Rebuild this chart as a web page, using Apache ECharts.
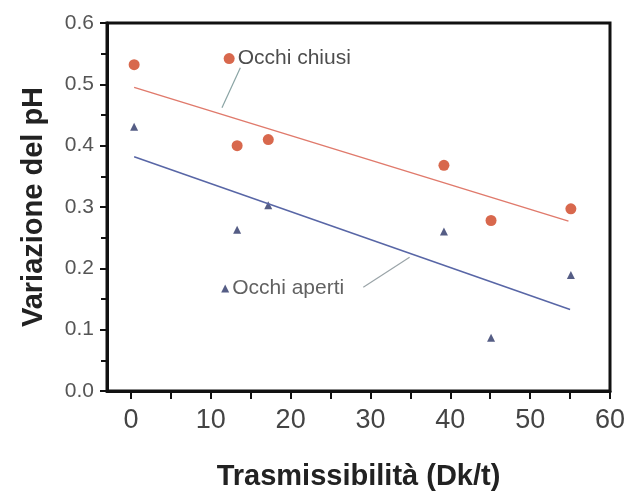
<!DOCTYPE html>
<html>
<head>
<meta charset="utf-8">
<script src="https://cdn.jsdelivr.net/npm/echarts@6/dist/echarts.min.js"></script>
<style>
  html, body { margin: 0; padding: 0; background: #fff; }
  #chart { width: 630px; height: 496px; }
</style>
</head>
<body>
<div id="chart"></div>
<script>
// dati
const chiusiX = [0.4, 12.3, 13.3, 17.2, 39.2, 45.1, 55.1]
const chiusiY = [0.532, 0.542, 0.400, 0.410, 0.368, 0.278, 0.297]
const apertiX = [0.4, 11.8, 13.3, 17.2, 39.2, 45.1, 55.1]
const apertiY = [0.431, 0.167, 0.263, 0.303, 0.260, 0.087, 0.189]
// rette di regressione (estremi)
const fitChiusi = [[0.4, 0.495], [54.8, 0.277]]
const fitAperti = [[0.4, 0.382], [55.0, 0.133]]
// linee di richiamo delle etichette
const leaderChiusi = [[13.7, 0.527], [11.4, 0.462]]
const leaderAperti = [[29.1, 0.169], [34.9, 0.218]]
const xTicks = [0, 5, 10, 15, 20, 25, 30, 35, 40, 45, 50, 55, 60]
const xLabels = [0, 10, 20, 30, 40, 50, 60]

const labelIndexChiusi = 1
const labelIndexAperti = 1

const FONT = 'Liberation Sans, Arial, sans-serif'
const chart = echarts.init(document.getElementById('chart'))

function points(xs, ys, labelIdx, text) {
  return xs.map((x, i) => {
    const item = { value: [x, ys[i]] }
    if (i === labelIdx) {
      item.label = {
        show: true,
        position: 'right',
        distance: 3,
        formatter: text,
        color: '#3a3a3a',
        fontSize: 21,
        fontFamily: FONT
      }
    }
    return item
  })
}

const option = {
  animation: false,
  grid: {
    left: 107, right: 20, top: 23, bottom: 104,
    show: true, borderColor: '#111', borderWidth: 3
  },
  xAxis: {
    type: 'value',
    min: -3,
    max: 60,
    name: 'Trasmissibilità (Dk/t)',
    nameLocation: 'middle',
    nameGap: 71,
    nameTextStyle: { fontSize: 29, fontWeight: 'bold', color: '#222', fontFamily: FONT },
    axisLine: { onZero: false, lineStyle: { color: '#111', width: 3 } },
    axisTick: { show: true, inside: false, length: 8, customValues: xTicks, lineStyle: { color: '#111', width: 2 } },
    axisLabel: { customValues: xLabels, fontSize: 27, color: '#444', margin: 16, fontFamily: FONT },
    splitLine: { show: false }
  },
  yAxis: {
    type: 'value',
    min: 0,
    max: 0.6,
    interval: 0.1,
    name: 'Variazione del pH',
    nameLocation: 'middle',
    nameGap: 59,
    nameTextStyle: { fontSize: 29, fontWeight: 'bold', color: '#222', fontFamily: FONT },
    axisLine: { show: true, onZero: false, lineStyle: { color: '#111', width: 3 } },
    axisTick: { show: true, length: 7, lineStyle: { color: '#111', width: 2 } },
    minorTick: { show: true, splitNumber: 2, length: 6, lineStyle: { color: '#111', width: 2 } },
    axisLabel: { fontSize: 21, color: '#555', margin: 13, formatter: v => v.toFixed(1), fontFamily: FONT },
    splitLine: { show: false }
  },
  series: [
    {
      type: 'line',
      data: fitChiusi,
      symbol: 'none',
      lineStyle: { color: '#e07a6c', width: 1.5 },
      silent: true
    },
    {
      type: 'line',
      data: fitAperti,
      symbol: 'none',
      lineStyle: { color: '#5866a6', width: 1.5 },
      silent: true
    },
    {
      type: 'line',
      data: leaderChiusi,
      symbol: 'none',
      lineStyle: { color: '#8aa4a4', width: 1.2 },
      silent: true
    },
    {
      type: 'line',
      data: leaderAperti,
      symbol: 'none',
      lineStyle: { color: '#9aa4a8', width: 1.2 },
      silent: true
    },
    {
      name: 'Occhi chiusi',
      type: 'scatter',
      symbol: 'circle',
      symbolSize: 11,
      itemStyle: { color: '#d4583a', opacity: 0.9 },
      data: points(chiusiX, chiusiY, labelIndexChiusi, 'Occhi chiusi')
    },
    {
      name: 'Occhi aperti',
      type: 'scatter',
      symbol: 'triangle',
      symbolSize: 8,
      itemStyle: { color: '#2b3566' },
      data: points(apertiX, apertiY, labelIndexAperti, 'Occhi aperti')
    }
  ]
}

chart.setOption(option)
</script>
</body>
</html>
